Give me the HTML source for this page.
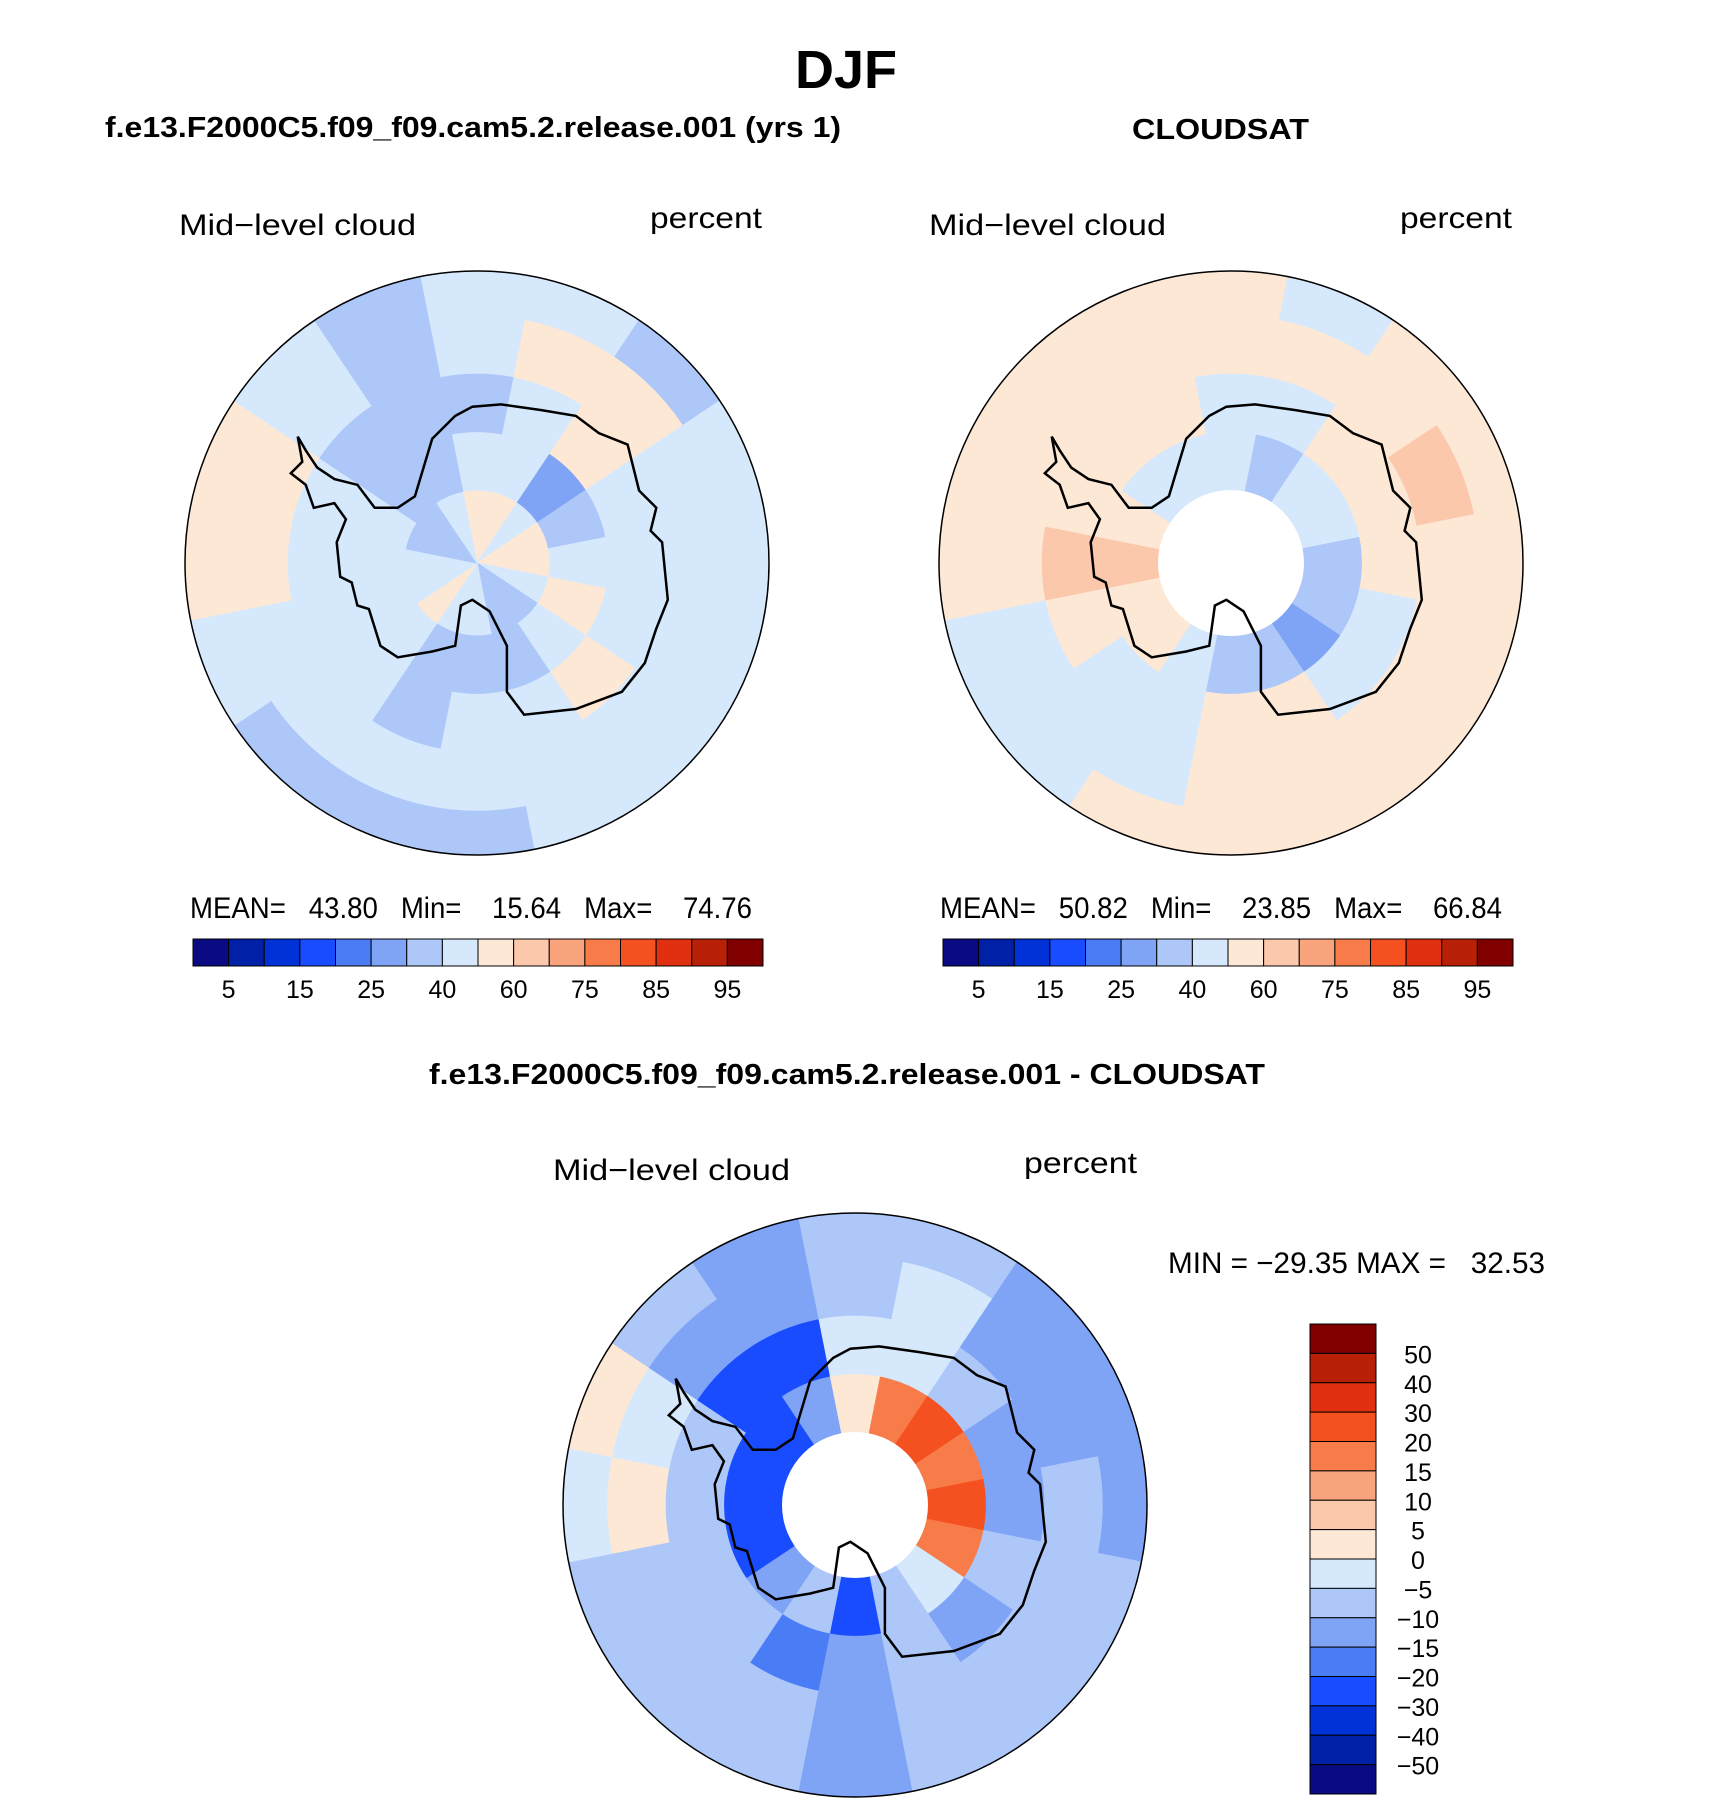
<!DOCTYPE html>
<html><head><meta charset="utf-8"><style>
html,body{margin:0;padding:0;background:#fff}
svg{display:block}
text{font-family:"Liberation Sans",sans-serif;fill:#000}
.t{font-size:30px}
.b{font-weight:bold}
</style></head><body>
<svg id="fig" width="1710" height="1805" viewBox="0 0 1710 1805" xmlns="http://www.w3.org/2000/svg">
<text class="b" x="846" y="88" font-size="54" text-anchor="middle" textLength="102" lengthAdjust="spacingAndGlyphs">DJF</text>
<text class="b" x="105" y="137" font-size="29" textLength="736" lengthAdjust="spacingAndGlyphs">f.e13.F2000C5.f09_f09.cam5.2.release.001 (yrs 1)</text>
<text class="b" x="1132" y="139" font-size="29" textLength="177" lengthAdjust="spacingAndGlyphs">CLOUDSAT</text>
<text class="b" x="429" y="1084" font-size="29" textLength="836" lengthAdjust="spacingAndGlyphs">f.e13.F2000C5.f09_f09.cam5.2.release.001 - CLOUDSAT</text>

<text class="t" x="179" y="235" textLength="237" lengthAdjust="spacingAndGlyphs">Mid−level cloud</text>
<text class="t" x="650" y="228" textLength="112" lengthAdjust="spacingAndGlyphs">percent</text>
<text class="t" x="929" y="235" textLength="237" lengthAdjust="spacingAndGlyphs">Mid−level cloud</text>
<text class="t" x="1400" y="228" textLength="112" lengthAdjust="spacingAndGlyphs">percent</text>
<text class="t" x="553" y="1180" textLength="237" lengthAdjust="spacingAndGlyphs">Mid−level cloud</text>
<text class="t" x="1024" y="1173" textLength="113" lengthAdjust="spacingAndGlyphs">percent</text>

<text class="t" x="190" y="918" font-size="26" textLength="562" lengthAdjust="spacingAndGlyphs" xml:space="preserve">MEAN=   43.80   Min=    15.64   Max=    74.76</text>
<text class="t" x="940" y="918" font-size="26" textLength="562" lengthAdjust="spacingAndGlyphs" xml:space="preserve">MEAN=   50.82   Min=    23.85   Max=    66.84</text>
<text class="t" x="1168" y="1273" font-size="26" textLength="377" lengthAdjust="spacingAndGlyphs" xml:space="preserve">MIN = −29.35 MAX =   32.53</text>
<g id="layer"></g>
</svg>
<script>
const palette = ["#0a0a82","#0020a8","#0032d8","#1a4cff","#4a7cf5","#7fa3f5","#adc8f8","#d6e8fc","#fde8d6","#fcc8ac","#f9a47c","#f77c4a","#f55020","#e03010","#b82008","#800000"];
const absLevels = [5,10,15,20,25,30,40,50,60,70,75,80,85,90,95];
const absTickLabels = ["5","15","25","40","60","75","85","95"];
const diffLevels = [-50,-40,-30,-20,-15,-10,-5,0,5,10,15,20,30,40,50];
const diffTickLabels = ["50","40","30","20","15","10","5","0","−5","−10","−15","−20","−30","−40","−50"];
// polar grids: rings from centre outward, 16 sectors clockwise from top
const ringEdges = [0,0.25,0.45,0.65,0.85,1.0];
const modelField = [
  [55,55,45,55,55,45,35,35,45,45,55,45,45,35,35,45],
  [45,45,25,35,45,55,45,35,35,35,45,45,45,45,35,35],
  [35,45,55,45,45,45,55,45,45,35,45,45,45,45,35,35],
  [45,55,55,45,45,45,45,45,45,45,45,45,55,55,45,35],
  [45,45,35,45,45,45,45,45,35,35,35,45,55,55,45,35]
];
const obsField = [
  [null,null,null,null,null,null,null,null,null,null,null,null,null,null,null,null],
  [45,35,45,45,35,35,25,35,35,45,55,55,65,55,45,45],
  [45,45,55,55,55,45,45,55,55,45,45,55,65,55,55,55],
  [55,55,55,65,55,55,55,55,55,45,45,45,55,55,55,55],
  [55,45,55,55,55,55,55,55,55,55,45,45,55,55,55,55]
];
const diffField = [
  [null,null,null,null,null,null,null,null,null,null,null,null,null,null,null,null],
  [3,15,22,17,25,15,-3,-8,-22,-8,-12,-22,-22,-25,-25,-12],
  [-3,-3,-8,-12,-12,-8,-12,-8,-12,-17,-8,-8,-8,-8,-22,-22],
  [-8,-3,-12,-12,-8,-8,-8,-8,-12,-8,-8,-8,2,-3,-12,-12],
  [-8,-8,-12,-12,-12,-8,-8,-8,-12,-8,-8,-8,-3,2,-8,-12]
];
const coast = [[258,378],[262,400],[252,410],[265,420],[272,440],[290,436],[300,450],[292,470],[295,500],[305,505],[310,525],[320,528],[330,560],[345,570],[375,565],[395,560],[400,525],[410,520],[425,530],[440,560],[440,600],[455,620],[500,615],[540,600],[560,575],[570,545],[580,520],[575,470],[565,460],[570,440],[555,425],[545,385],[520,375],[500,360],[470,355],[435,350],[410,352],[395,360],[375,380],[360,430],[345,440],[325,440],[310,420],[290,415],[275,405],[265,390],[258,378]];
const NS="http://www.w3.org/2000/svg";
const layer=document.getElementById('layer');
function colorIdx(v,lv){let i=0;while(i<lv.length&&v>=lv[i])i++;return i;}
function pt(cx,cy,r,a){return [cx+r*Math.sin(a),cy-r*Math.cos(a)];}
function drawPanel(name,cx,cy,R,field,lv,hole){
  const g=document.createElementNS(NS,'g');
  
  
  layer.appendChild(g);
  const ns=field[0].length, da=2*Math.PI/ns;
  field.forEach((row,ri)=>{row.forEach((v,si)=>{
    if(v===null)return;
    const r0=ringEdges[ri]*R,r1=ringEdges[ri+1]*R,a0=si*da-da/2,a1=a0+da;
    const p1=pt(cx,cy,r1,a0),p2=pt(cx,cy,r1,a1),p3=pt(cx,cy,r0,a1),p4=pt(cx,cy,r0,a0);
    const p=document.createElementNS(NS,'path');
    p.setAttribute('d',`M${p1}A${r1},${r1} 0 0 1 ${p2}L${p3}`+(r0>0?`A${r0},${r0} 0 0 0 ${p4}`:'')+'Z');
    p.setAttribute('fill',palette[colorIdx(v,lv)]);p.setAttribute('stroke',palette[colorIdx(v,lv)]);p.setAttribute('stroke-width','1');
    
    
    g.appendChild(p);
  });});
  if(hole){const h=document.createElementNS(NS,'circle');h.setAttribute('cx',cx);h.setAttribute('cy',cy);h.setAttribute('r',0.25*R);h.setAttribute('fill','#fff');
    
    
    g.appendChild(h);}
  const c=document.createElementNS(NS,'path');
  c.setAttribute('d','M'+coast.map(q=>[(cx+(q[0]-414)/254*R).toFixed(1),(cy+(q[1]-488)/254*R).toFixed(1)].join(',')).join('L'));
  c.setAttribute('fill','none');c.setAttribute('stroke','#000');c.setAttribute('stroke-width','2.5');
  
  
  g.appendChild(c);
  const o=document.createElementNS(NS,'circle');o.setAttribute('cx',cx);o.setAttribute('cy',cy);o.setAttribute('r',R);o.setAttribute('fill','none');o.setAttribute('stroke','#000');o.setAttribute('stroke-width','1.5');
  
  
  g.appendChild(o);
}
function hBar(name,x,y,w,h){
  const g=document.createElementNS(NS,'g');
  
  
  layer.appendChild(g);
  const bw=w/palette.length;
  palette.forEach((c,i)=>{const r=document.createElementNS(NS,'rect');r.setAttribute('x',x+i*bw);r.setAttribute('y',y);r.setAttribute('width',bw);r.setAttribute('height',h);r.setAttribute('fill',c);r.setAttribute('stroke','#000');r.setAttribute('stroke-width','1');
    
    
    g.appendChild(r);});
  absTickLabels.forEach((s,k)=>{const t=document.createElementNS(NS,'text');t.setAttribute('x',x+(2*k+1)*bw);t.setAttribute('y',y+59);t.setAttribute('text-anchor','middle');t.setAttribute('font-size','25');t.textContent=s;
    
    
    g.appendChild(t);});
}
function vBar(name,x,y,w,h){
  const g=document.createElementNS(NS,'g');
  
  
  layer.appendChild(g);
  const bh=h/palette.length;
  palette.slice().reverse().forEach((c,i)=>{const r=document.createElementNS(NS,'rect');r.setAttribute('x',x);r.setAttribute('y',y+i*bh);r.setAttribute('width',w);r.setAttribute('height',bh);r.setAttribute('fill',c);r.setAttribute('stroke','#000');r.setAttribute('stroke-width','1');
    
    
    g.appendChild(r);});
  diffTickLabels.forEach((s,k)=>{const t=document.createElementNS(NS,'text');t.setAttribute('x',x+w+42);t.setAttribute('y',y+(k+1)*bh+10);t.setAttribute('text-anchor','middle');t.setAttribute('font-size','25');t.textContent=s;
    
    
    g.appendChild(t);});
}
drawPanel('model-map',477,563,292,modelField,absLevels,false);
drawPanel('cloudsat-map',1231,563,292,obsField,absLevels,true);
drawPanel('difference-map',855,1505,292,diffField,diffLevels,true);
hBar('left-colorbar',193,939,570,27);
hBar('right-colorbar',943,939,570,27);
vBar('diff-colorbar',1310,1324,66,470);
</script>
</body></html>
